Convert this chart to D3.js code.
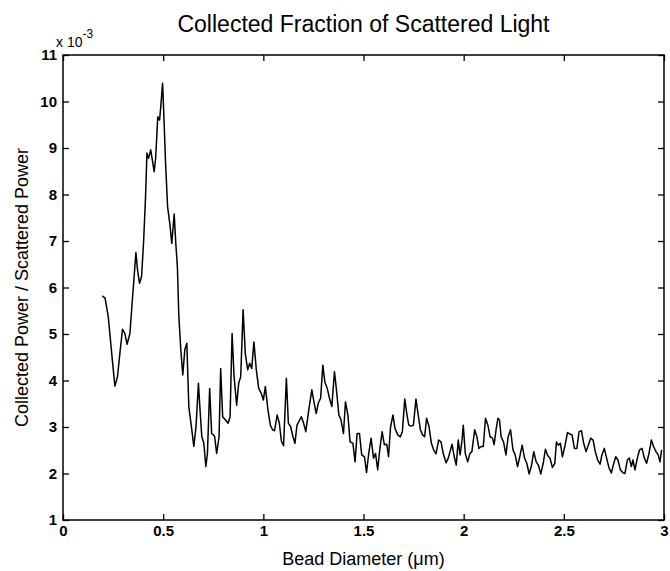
<!DOCTYPE html>
<html>
<head>
<meta charset="utf-8">
<script src="https://cdn.jsdelivr.net/npm/d3@7"></script>
<style>
  body { margin: 0; background: #fff; }
  svg { font-family: "Liberation Sans", Arial, Helvetica, sans-serif; }
</style>
</head>
<body>
<div id="chart"></div>
<script>
// Bead diameter (um) and collected fraction (x 10^-3)
const diameter = [
  0.196, 0.21, 0.226, 0.243, 0.259, 0.272, 0.284, 0.297, 0.309, 0.32,
  0.334, 0.345, 0.355, 0.364, 0.372, 0.382, 0.392, 0.402, 0.412, 0.419,
  0.427, 0.438, 0.455, 0.463, 0.473, 0.482, 0.488, 0.497, 0.503, 0.512,
  0.522, 0.533, 0.543, 0.555, 0.563, 0.571, 0.578, 0.588, 0.598, 0.608,
  0.618, 0.628, 0.641, 0.653, 0.664, 0.676, 0.684, 0.693, 0.703, 0.713,
  0.721, 0.732, 0.742, 0.751, 0.757, 0.767, 0.779, 0.787, 0.797, 0.811,
  0.824, 0.834, 0.844, 0.854, 0.867, 0.877, 0.887, 0.899, 0.910, 0.922,
  0.932, 0.942, 0.953, 0.965, 0.977, 0.990, 1.000, 1.010, 1.023, 1.035,
  1.046, 1.056, 1.069, 1.080, 1.090, 1.101, 1.115, 1.125, 1.136, 1.148,
  1.158, 1.168, 1.190, 1.201, 1.212, 1.227, 1.242, 1.254, 1.264, 1.274,
  1.286, 1.297, 1.307, 1.319, 1.330, 1.342, 1.355, 1.365, 1.377, 1.388,
  1.400, 1.410, 1.422, 1.433, 1.447, 1.458, 1.468, 1.480, 1.491, 1.505,
  1.515, 1.526, 1.538, 1.550, 1.560, 1.571, 1.581, 1.593, 1.604, 1.616,
  1.625, 1.635, 1.647, 1.657, 1.671, 1.684, 1.694, 1.706, 1.716, 1.726,
  1.737, 1.749, 1.762, 1.772, 1.784, 1.795, 1.805, 1.815, 1.827, 1.839,
  1.850, 1.862, 1.875, 1.887, 1.898, 1.912, 1.923, 1.932, 1.942, 1.953,
  1.963, 1.973, 1.982, 1.992, 1.998, 2.008, 2.020, 2.031, 2.041, 2.055,
  2.066, 2.076, 2.088, 2.098, 2.109, 2.121, 2.132, 2.144, 2.152, 2.162,
  2.171, 2.179, 2.187, 2.199, 2.211, 2.222, 2.234, 2.246, 2.257, 2.269,
  2.280, 2.292, 2.304, 2.315, 2.327, 2.339, 2.350, 2.362, 2.373, 2.385,
  2.397, 2.408, 2.420, 2.431, 2.443, 2.455, 2.463, 2.473, 2.483, 2.493,
  2.505, 2.518, 2.530, 2.541, 2.553, 2.565, 2.576, 2.588, 2.599, 2.611,
  2.622, 2.634, 2.646, 2.657, 2.669, 2.681, 2.690, 2.702, 2.713, 2.725,
  2.737, 2.747, 2.759, 2.770, 2.782, 2.794, 2.805, 2.817, 2.827, 2.837,
  2.845, 2.855, 2.867, 2.878, 2.890, 2.902, 2.913, 2.925, 2.937, 2.948,
  2.960, 2.971, 2.980, 2.988
];
const fraction = [
  5.82, 5.77, 5.37, 4.59, 3.88, 4.08, 4.59, 5.10, 5.01, 4.78,
  5.01, 5.66, 6.23, 6.75, 6.38, 6.09, 6.23, 6.95, 7.95, 8.89,
  8.78, 8.96, 8.49, 8.81, 9.67, 9.60, 9.89, 10.39, 9.75, 8.67,
  7.74, 7.38, 6.95, 7.58, 6.95, 6.45, 5.40, 4.66, 4.12, 4.66,
  4.80, 3.44, 3.01, 2.58, 3.01, 3.94, 3.37, 2.79, 2.65, 2.15,
  2.43, 3.83, 2.86, 2.83, 2.79, 2.43, 2.79, 4.26, 3.22, 3.15,
  3.08, 3.22, 5.01, 4.08, 3.47, 3.94, 4.08, 5.52, 4.58, 4.23,
  4.37, 4.26, 4.83, 4.23, 3.83, 3.72, 3.58, 3.87, 3.37, 3.04,
  2.94, 2.92, 3.26, 3.08, 2.70, 2.60, 4.05, 3.08, 3.01, 2.79,
  2.65, 3.04, 3.22, 3.08, 2.90, 3.37, 3.80, 3.51, 3.29, 3.51,
  3.62, 4.33, 3.97, 3.83, 3.62, 3.44, 4.19, 3.80, 3.26, 3.15,
  2.86, 3.54, 3.26, 2.68, 2.65, 2.25, 2.86, 2.86, 2.40, 2.36,
  2.02, 2.43, 2.76, 2.33, 2.43, 2.08, 2.51, 2.90, 2.62, 2.63,
  2.36, 3.00, 3.26, 2.97, 2.83, 2.79, 2.90, 3.60, 3.29, 3.04,
  3.02, 3.04, 3.60, 3.29, 2.94, 2.83, 2.79, 3.19, 3.01, 2.65,
  2.51, 2.42, 2.72, 2.68, 2.43, 2.23, 2.33, 2.47, 2.63, 2.36,
  2.18, 2.72, 2.40, 2.72, 3.04, 2.43, 2.25, 2.43, 2.47, 2.94,
  2.79, 2.54, 2.58, 2.58, 3.19, 3.04, 2.79, 2.76, 2.62, 2.95,
  3.19, 3.15, 2.79, 2.68, 2.40, 2.79, 2.94, 2.51, 2.40, 2.15,
  2.36, 2.61, 2.33, 2.22, 1.99, 2.18, 2.47, 2.25, 2.18, 1.99,
  2.22, 2.52, 2.38, 2.33, 2.13, 2.22, 2.68, 2.61, 2.65, 2.36,
  2.58, 2.88, 2.85, 2.83, 2.54, 2.54, 2.90, 2.92, 2.65, 2.47,
  2.61, 2.76, 2.72, 2.47, 2.29, 2.20, 2.40, 2.54, 2.34, 2.13,
  2.01, 2.18, 2.36, 2.29, 2.08, 2.02, 2.00, 2.29, 2.33, 2.15,
  2.29, 2.08, 2.33, 2.51, 2.54, 2.33, 2.22, 2.43, 2.72, 2.58,
  2.47, 2.40, 2.25, 2.51
];
const xTicks = [0, 0.5, 1, 1.5, 2, 2.5, 3];
const yTicks = [1, 2, 3, 4, 5, 6, 7, 8, 9, 10, 11];

const width = 670, height = 571;
const margin = { top: 55, right: 6, bottom: 51, left: 63 };

const svg = d3.select("#chart").append("svg")
    .attr("width", width)
    .attr("height", height);

const x = d3.scaleLinear().domain([0, 3]).range([margin.left, width - margin.right]);
const y = d3.scaleLinear().domain([1, 11]).range([height - margin.bottom, margin.top]);

// axes, MATLAB style: ticks pointing inward on all four sides
const tickLen = 6;
const gx = svg.append("g")
    .attr("transform", `translate(0,${y(1)})`)
    .call(d3.axisBottom(x).tickValues(xTicks).tickFormat(d3.format("~g"))
        .tickSizeInner(-tickLen).tickSizeOuter(0).tickPadding(5));
const gxTop = svg.append("g")
    .attr("transform", `translate(0,${y(11)})`)
    .call(d3.axisTop(x).tickValues(xTicks).tickFormat("")
        .tickSizeInner(-tickLen).tickSizeOuter(0));
const gy = svg.append("g")
    .attr("transform", `translate(${x(0)},0)`)
    .call(d3.axisLeft(y).tickValues(yTicks)
        .tickSizeInner(-tickLen).tickSizeOuter(0).tickPadding(6));
const gyRight = svg.append("g")
    .attr("transform", `translate(${x(3)},0)`)
    .call(d3.axisRight(y).tickValues(yTicks).tickFormat("")
        .tickSizeInner(-tickLen).tickSizeOuter(0));

[gx, gxTop, gy, gyRight].forEach(g => {
    g.select(".domain").remove();
    g.selectAll(".tick line").attr("stroke", "#000").attr("stroke-width", 1.3);
    g.selectAll(".tick text")
        .attr("fill", "#000")
        .attr("font-size", "15px")
        .attr("font-weight", "bold")
        .attr("font-family", "'Liberation Sans', Arial, sans-serif");
});

// box
svg.append("rect")
    .attr("x", x(0))
    .attr("y", y(11))
    .attr("width", x(3) - x(0))
    .attr("height", y(1) - y(11))
    .attr("fill", "none")
    .attr("stroke", "#000")
    .attr("stroke-width", 1.5);

// curve
const line = d3.line()
    .x(d => x(d[0]))
    .y(d => y(d[1]));

svg.append("path")
    .datum(d3.zip(diameter, fraction))
    .attr("fill", "none")
    .attr("stroke", "#000")
    .attr("stroke-width", 1.5)
    .attr("stroke-linejoin", "round")
    .attr("d", line);

// exponent label
const expo = svg.append("text")
    .attr("x", x(0) - 7)
    .attr("y", 47)
    .attr("font-size", "14px")
    .attr("fill", "#000");
expo.append("tspan").text("x 10");
expo.append("tspan").attr("dy", -9).attr("font-size", "12px").text("-3");

// title
svg.append("text")
    .attr("x", (x(0) + x(3)) / 2)
    .attr("y", 32)
    .attr("text-anchor", "middle")
    .attr("font-size", "23px")
    .attr("fill", "#000")
    .text("Collected Fraction of Scattered Light");

// axis labels
svg.append("text")
    .attr("x", (x(0) + x(3)) / 2)
    .attr("y", 565)
    .attr("text-anchor", "middle")
    .attr("font-size", "18px")
    .attr("fill", "#000")
    .text("Bead Diameter (\u03bcm)");

svg.append("text")
    .attr("transform", `translate(28,${(y(1) + y(11)) / 2}) rotate(-90)`)
    .attr("text-anchor", "middle")
    .attr("font-size", "18px")
    .attr("fill", "#000")
    .text("Collected Power / Scattered Power");
</script>
</body>
</html>
